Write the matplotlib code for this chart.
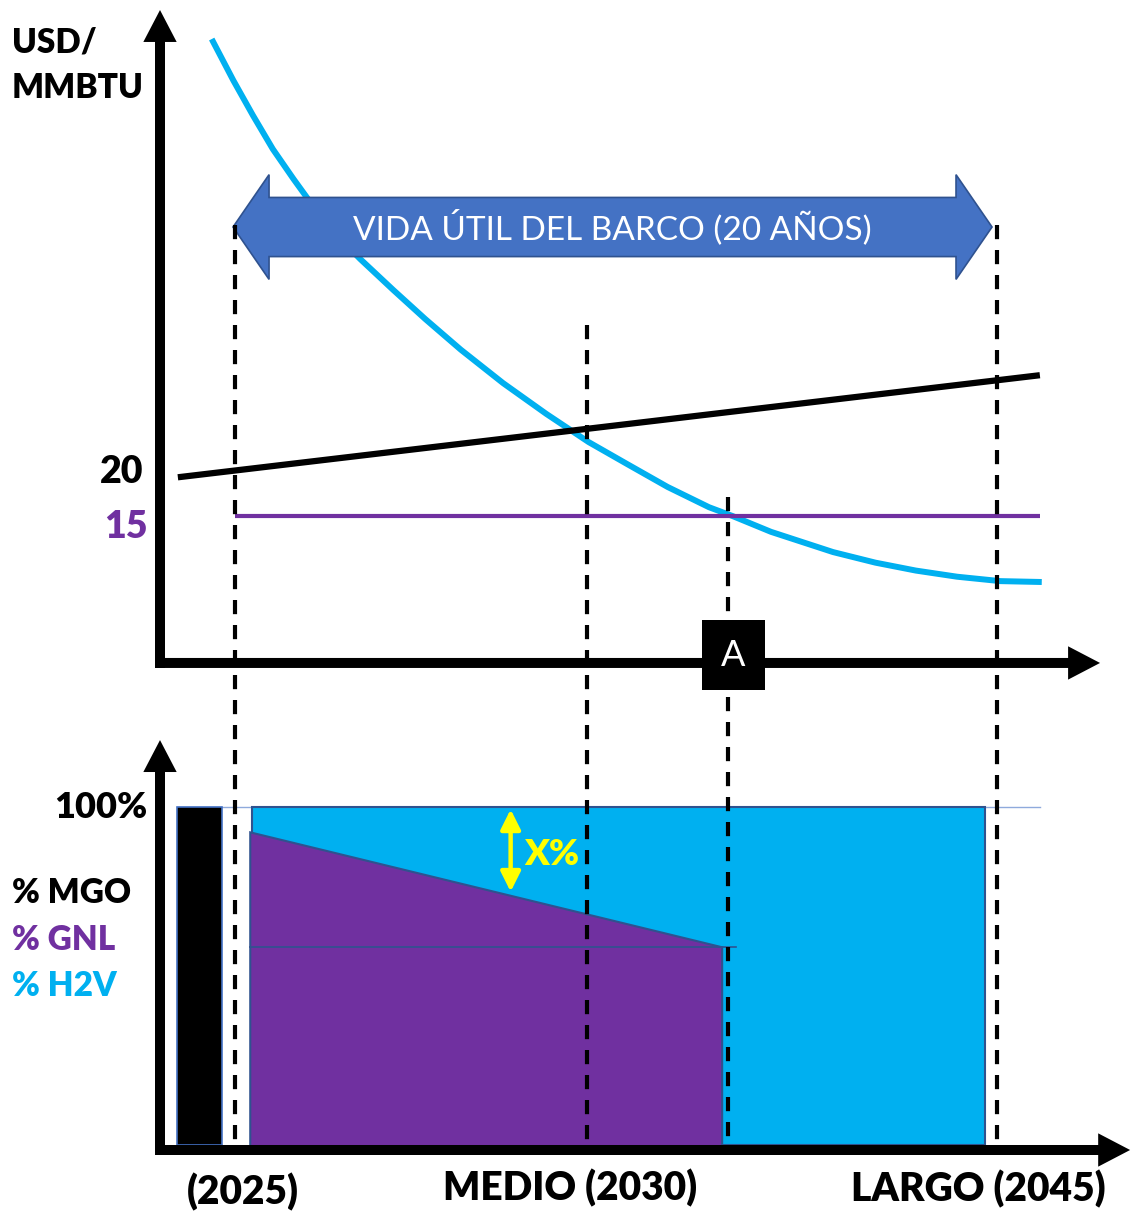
import numpy as np
import matplotlib
matplotlib.use("Agg")
import matplotlib.pyplot as plt
import matplotlib.patches as mpatches

plt.rcParams['font.family'] = ['Lato', 'DejaVu Sans']

BLUE = '#00B0F0'
PURPLE = '#7030A0'
ARROW_BLUE = '#4472C4'
EDGE = '#2F528F'

# schematic time axis: 0 = origin, 100 = arrow tip
x_2025, x_2030, x_a, x_2045 = 8.0, 45.4, 60.4, 89.0

# fuel prices (USD/MMBTU)
mgo_x = [1.9, 93.6]
mgo_price = [19.4, 31.0]
gnl_x = [8.0, 93.6]
gnl_price = [15.0, 15.0]
h2v_x = [5.5, 7.8, 9.9, 12.0, 14.2, 16.3, 18.7, 21.3, 24.8, 28.2, 32.0, 36.5, 41.1,
         45.6, 49.7, 54.0, 58.4, 60.9, 65.0, 71.6, 76.1, 80.4, 84.8, 89.4, 93.8]
h2v_price = [69.2, 64.5, 60.5, 56.7, 53.3, 50.2, 47.0, 44.2, 40.7, 37.4, 33.9, 30.1, 26.6,
             23.4, 20.9, 18.3, 16.0, 15.0, 13.2, 10.9, 9.7, 8.8, 8.1, 7.6, 7.5]

# fuel mix (%)
mgo_share_x = [1.8, 6.6]
mgo_share = 100
h2v_share_x = [9.8, 87.8]
h2v_share = 100
gnl_share_x = [9.6, 59.8]
gnl_share = [92.5, 58.5]
xpct_x = 37.3

fig = plt.figure(figsize=(11.32, 12.13), dpi=100)
ax_mix = fig.add_axes([150 / 1132, 1 - 1160 / 1213, 982 / 1132, 430 / 1213], zorder=1)
ax = fig.add_axes([150 / 1132, 1 - 670 / 1213, 982 / 1132, 665 / 1213], zorder=2)
for a in (ax, ax_mix):
    a.set_facecolor('none')
    a.set_xlim(-1.064, 103.4)
    a.axis('off')
ax.set_ylim(-2.5, 73.07)
ax_mix.set_ylim(-4.44, 122.78)


def axis_arrow(a, start, end):
    a.add_patch(mpatches.FancyArrowPatch(
        start, end, arrowstyle='simple,head_length=2.3,head_width=2.4,tail_width=0.72',
        mutation_scale=10, lw=0, color='black', shrinkA=0, shrinkB=0, clip_on=False, zorder=6))


axis_arrow(ax, (0, -2.27), (0, 72.5))
axis_arrow(ax, (-0.53, -1.7), (100, -1.7))
axis_arrow(ax_mix, (0, -2.07), (0, 119.8))
axis_arrow(ax_mix, (-0.53, -1.48), (103.2, -1.48))

# price curves
ax.plot(h2v_x, h2v_price, color=BLUE, lw=4.3, solid_capstyle='butt',
        solid_joinstyle='round', zorder=3)
ax.plot(mgo_x, mgo_price, color='black', lw=4.5, solid_capstyle='butt', zorder=3)
ax.plot(gnl_x, gnl_price, color=PURPLE, lw=3, solid_capstyle='butt', zorder=3)

# ship lifetime double arrow
xl, xr, yc = 7.77, 88.51, 47.84
hl, hw, sw = 3.83, 5.95, 3.36
ship = np.array([
    (xl, yc), (xl + hl, yc + hw), (xl + hl, yc + sw), (xr - hl, yc + sw),
    (xr - hl, yc + hw), (xr, yc), (xr - hl, yc - hw), (xr - hl, yc - sw),
    (xl + hl, yc - sw), (xl + hl, yc - hw)])
ax.add_patch(mpatches.Polygon(ship, closed=True, fc=ARROW_BLUE, ec=EDGE, lw=1.2, zorder=4))
ax.text((xl + xr) / 2, yc, 'VIDA ÚTIL DEL BARCO (20 AÑOS)', color='white',
        fontsize=24, ha='center', va='center', zorder=5)

# guide lines across both panels
for gx, top in [(x_2025, 48.1), (x_2030, 36.7), (x_a, 17.2), (x_2045, 48.1)]:
    ax.plot([gx, gx], [top, -57.0], color='black', lw=3, dashes=(3.4, 2.6),
            clip_on=False, zorder=5)

# point A
ax.add_patch(mpatches.Rectangle((57.66, -4.77), 6.7, 7.95, fc='black', ec='none',
                                clip_on=False, zorder=7))
ax.text(61.0, -0.8, 'A', color='white', fontsize=26, ha='center', va='center',
        clip_on=False, zorder=8)

# fuel mix panel
ax_mix.plot([1.8, 93.6], [100, 100], color='#8FAADC', lw=1, zorder=1)
ax_mix.add_patch(mpatches.Rectangle((mgo_share_x[0], 0), mgo_share_x[1] - mgo_share_x[0],
                                    mgo_share, fc='black', ec=ARROW_BLUE, lw=1.2, zorder=2))
ax_mix.add_patch(mpatches.Rectangle((h2v_share_x[0], 0), h2v_share_x[1] - h2v_share_x[0],
                                    h2v_share, fc=BLUE, ec=EDGE, lw=1.5, zorder=2))
gnl_poly = [(gnl_share_x[0], -1.5), (gnl_share_x[0], gnl_share[0]),
            (gnl_share_x[1], gnl_share[1]), (gnl_share_x[1], -1.5)]
ax_mix.add_patch(mpatches.Polygon(gnl_poly, closed=True, fc=PURPLE, ec=EDGE, lw=1.5, zorder=3))
ax_mix.plot([gnl_share_x[0], gnl_share_x[1] + 1.5], [gnl_share[1], gnl_share[1]],
            color=EDGE, lw=1.2, zorder=3)

xpct_low = np.interp(xpct_x, gnl_share_x, gnl_share) + 1.2
ax_mix.annotate('', xy=(xpct_x, 99.3), xytext=(xpct_x, xpct_low),
                arrowprops=dict(arrowstyle='<|-|>,head_length=1.2,head_width=0.6',
                                mutation_scale=10, lw=3.2, color='#FFFF00',
                                shrinkA=0, shrinkB=0), zorder=4)
ax_mix.text(xpct_x + 1.4, 85.8, 'X%', color='#FFFF00', fontsize=26, fontweight='heavy',
            ha='left', va='center', zorder=4)

# labels
def ftext(px, py, s, **kw):
    fig.text(px / 1132, 1 - py / 1213, s, fontweight='heavy', va='center', **kw)


ftext(12, 42, 'USD/', fontsize=24)
ftext(12, 88, 'MMBTU', fontsize=24)
ftext(143, 472, '20', fontsize=27, ha='right')
ftext(148, 527, '15', fontsize=27, ha='right', color=PURPLE)
ftext(147, 808, '100%', fontsize=26, ha='right')
ftext(12, 893, '% MGO', fontsize=24)
ftext(12, 940, '% GNL', fontsize=24, color=PURPLE)
ftext(12, 986, '% H2V', fontsize=24, color=BLUE)
ftext(243, 1192, '(2025)', fontsize=28, ha='center')
ftext(570, 1188, 'MEDIO (2030)', fontsize=28, ha='center')
ftext(978, 1189, 'LARGO (2045)', fontsize=28, ha='center')

fig.savefig('out.png', dpi=100)
